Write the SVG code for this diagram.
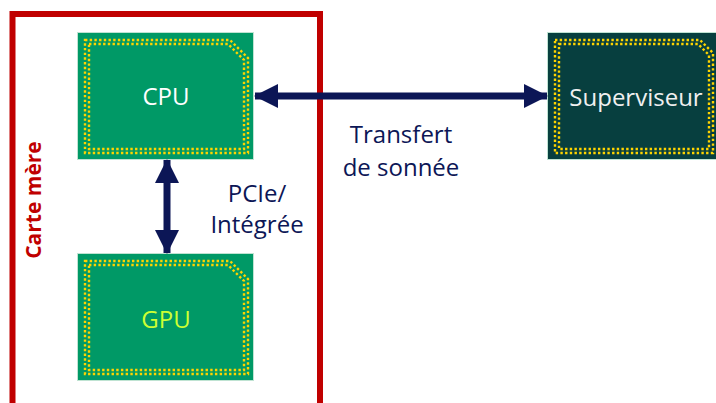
<svg xmlns="http://www.w3.org/2000/svg" width="716" height="403" viewBox="0 0 716 403">
<style>
.box{stroke:#bfe3d2;stroke-width:1}
.g{fill:#009966}
.d{fill:#073f3f}
.dots{fill:none;stroke:#ffd400;stroke-width:2.4;stroke-dasharray:2.4 2.3}
.lbl{font-family:"Open Sans","Noto Sans",sans-serif;font-size:24px;text-anchor:middle}
.nav{fill:#0c1656}
</style>
<defs>
<marker id="ah" markerWidth="24" markerHeight="24" refX="23" refY="12" orient="auto-start-reverse" markerUnits="userSpaceOnUse">
<path d="M0,0 L24,12 L0,24 Z" fill="#0c1656"/>
</marker>
</defs>
<rect width="716" height="403" fill="#ffffff"/>
<g id="carte-mere">
<path d="M12.5,410 V14 H320 V410" fill="none" stroke="#c00000" stroke-width="6"/>
<text transform="translate(41,200) rotate(-90)" font-family="'Open Sans','Noto Sans',sans-serif" font-size="21" font-weight="bold" fill="#c00000" text-anchor="middle">Carte mère</text>
</g>
<g id="cpu">
<rect class="box g" x="77.5" y="32.5" width="176" height="127"/>
<path class="dots" d="M85,40 H230 L248,58 V153 H85 Z"/>
<path class="dots" d="M89,44 H228 L244,60 V149 H89 Z"/>
<text class="lbl" x="166" y="105" fill="#ffffff">CPU</text>
</g>
<g id="gpu">
<rect class="box g" x="77.5" y="253.5" width="176" height="127"/>
<path class="dots" d="M85,261 H230 L248,279 V374 H85 Z"/>
<path class="dots" d="M89,265 H228 L244,281 V370 H89 Z"/>
<text class="lbl" x="166" y="328" fill="#ccff33">GPU</text>
</g>
<g id="superviseur">
<rect class="box d" x="547.5" y="32.5" width="170" height="127"/>
<path class="dots" d="M555,40 H700 L713,53 V153 H555 Z"/>
<path class="dots" d="M559,44 H698 L709,55 V149 H559 Z"/>
<text class="lbl" x="636" y="106" fill="#f0f0f0">Superviseur</text>
</g>
<g id="connectors">
<line x1="255" y1="96" x2="547" y2="96" stroke="#0c1656" stroke-width="7" marker-start="url(#ah)" marker-end="url(#ah)"/>
<line x1="167" y1="160" x2="167" y2="253" stroke="#0c1656" stroke-width="7" marker-start="url(#ah)" marker-end="url(#ah)"/>
<text class="lbl" x="401" y="143" fill="#0c1656">Transfert</text>
<text class="lbl" x="401" y="176" fill="#0c1656">de sonnée</text>
<text class="lbl" x="257" y="202" fill="#0c1656">PCIe/</text>
<text class="lbl" x="257" y="233" fill="#0c1656">Intégrée</text>
</g>
</svg>
